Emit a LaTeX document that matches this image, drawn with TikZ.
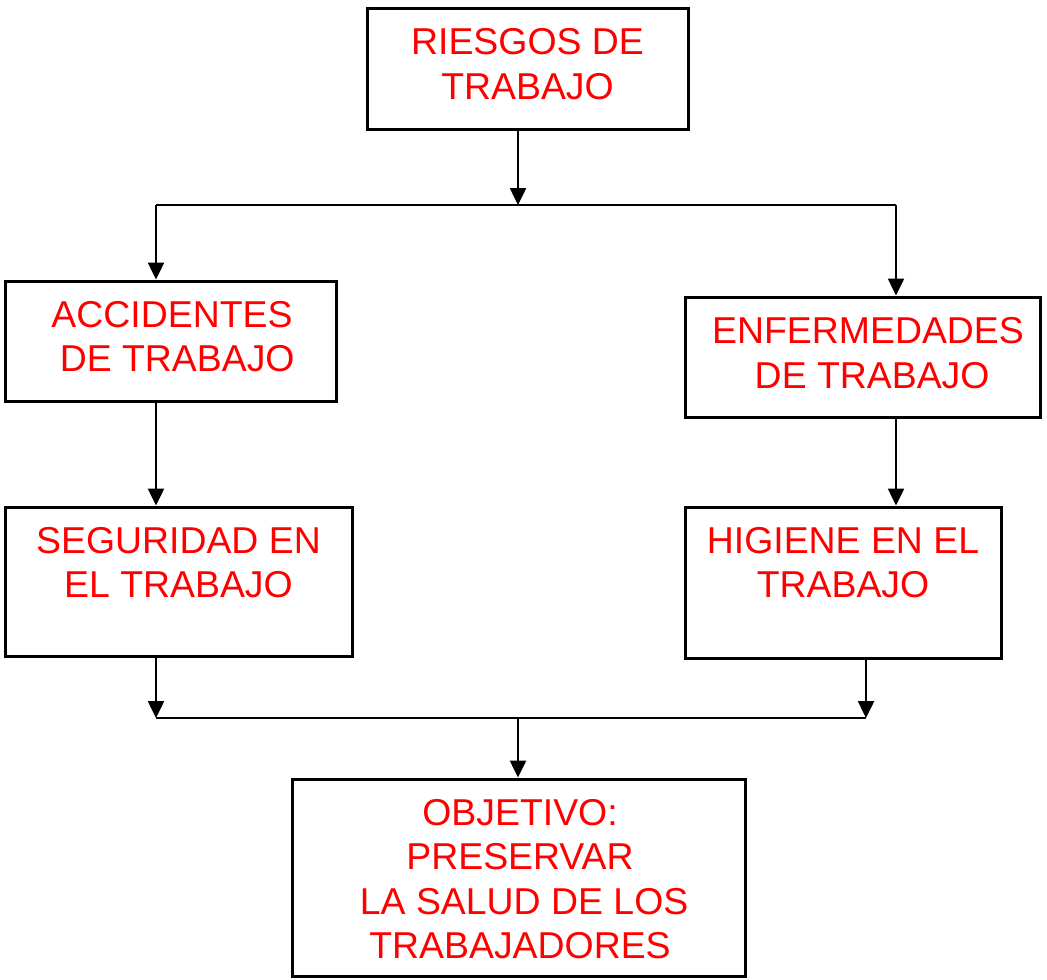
\documentclass[tikz,border=0pt]{standalone}
\usepackage{fontspec}
\setmainfont{Liberation Sans}
\usetikzlibrary{arrows.meta}

\tikzset{every picture/.style={line width=0.75pt}}
\tikzset{
  box/.style={draw, line width=3, rectangle, inner sep=0pt},
  txt/.style={text={rgb,255:red,255;green,0;blue,0}, align=center, inner sep=0pt, font=\fontsize{37.4}{44.5}\selectfont},
  link/.style={line width=2.5},
  flow/.style={line width=2.5, -{Triangle[length=17,width=16]}}
}

\begin{document}
\begin{tikzpicture}[x=1pt,y=1pt,yscale=-1,xscale=1]
\useasboundingbox (0,0) rectangle (1047,980);

%Shape: Rectangle [riesgos]
\node [box, minimum width=321, minimum height=121] (riesgos) at (527.5,68.5) {};
%Shape: Rectangle [accidentes]
\node [box, minimum width=331, minimum height=120] (accidentes) at (170.5,341) {};
%Shape: Rectangle [enfermedades]
\node [box, minimum width=355, minimum height=120] (enfermedades) at (862.5,357) {};
%Shape: Rectangle [seguridad]
\node [box, minimum width=347, minimum height=149] (seguridad) at (178.5,581.5) {};
%Shape: Rectangle [higiene]
\node [box, minimum width=316, minimum height=151] (higiene) at (843,582.5) {};
%Shape: Rectangle [objetivo]
\node [box, minimum width=453, minimum height=197] (objetivo) at (518.5,877.5) {};

% Text Node
\node [txt] (riesgos-t) at (527.5,64) {RIESGOS DE\\TRABAJO};
% Text Node
\node [txt] (accidentes-t) at (172,336.5) {ACCIDENTES\\\phantom{.}DE TRABAJO};
% Text Node
\node [txt] (enfermedades-t) at (868,353) {ENFERMEDADES\\\phantom{i}DE TRABAJO};
% Text Node
\node [txt] (seguridad-t) at (178.5,562.5) {SEGURIDAD EN\\EL TRABAJO};
% Text Node
\node [txt] (higiene-t) at (843,562.5) {HIGIENE EN EL\\TRABAJO};
% Text Node
\node [txt] (objetivo-t) at (520,879) {OBJETIVO:\\PRESERVAR\\\phantom{i}LA SALUD DE LOS\\TRABAJADORES};

%Straight Lines (top split)
\coordinate (splitT) at (518,205);
\coordinate (splitL) at (156,205);
\coordinate (splitR) at (896,205);
\draw [flow] (riesgos.south -| splitT) -- (splitT);
\draw [link] (splitL) -- (splitR);
\draw [flow] (splitL) -- (splitL |- accidentes.north);
\draw [flow] (splitR) -- (splitR |- enfermedades.north);

%Straight Lines (middle)
\draw [flow] (accidentes.south -| splitL) -- (seguridad.north -| splitL);
\draw [flow] (enfermedades.south -| splitR) -- (higiene.north -| splitR);

%Straight Lines (bottom join)
\coordinate (joinL) at (156,718);
\coordinate (joinR) at (866,718);
\coordinate (joinT) at (518,718);
\draw [flow] (seguridad.south -| joinL) -- (joinL);
\draw [flow] (higiene.south -| joinR) -- (joinR);
\draw [link] (joinL) -- (joinR);
\draw [flow] (joinT) -- (objetivo.north -| joinT);

\end{tikzpicture}
\end{document}
